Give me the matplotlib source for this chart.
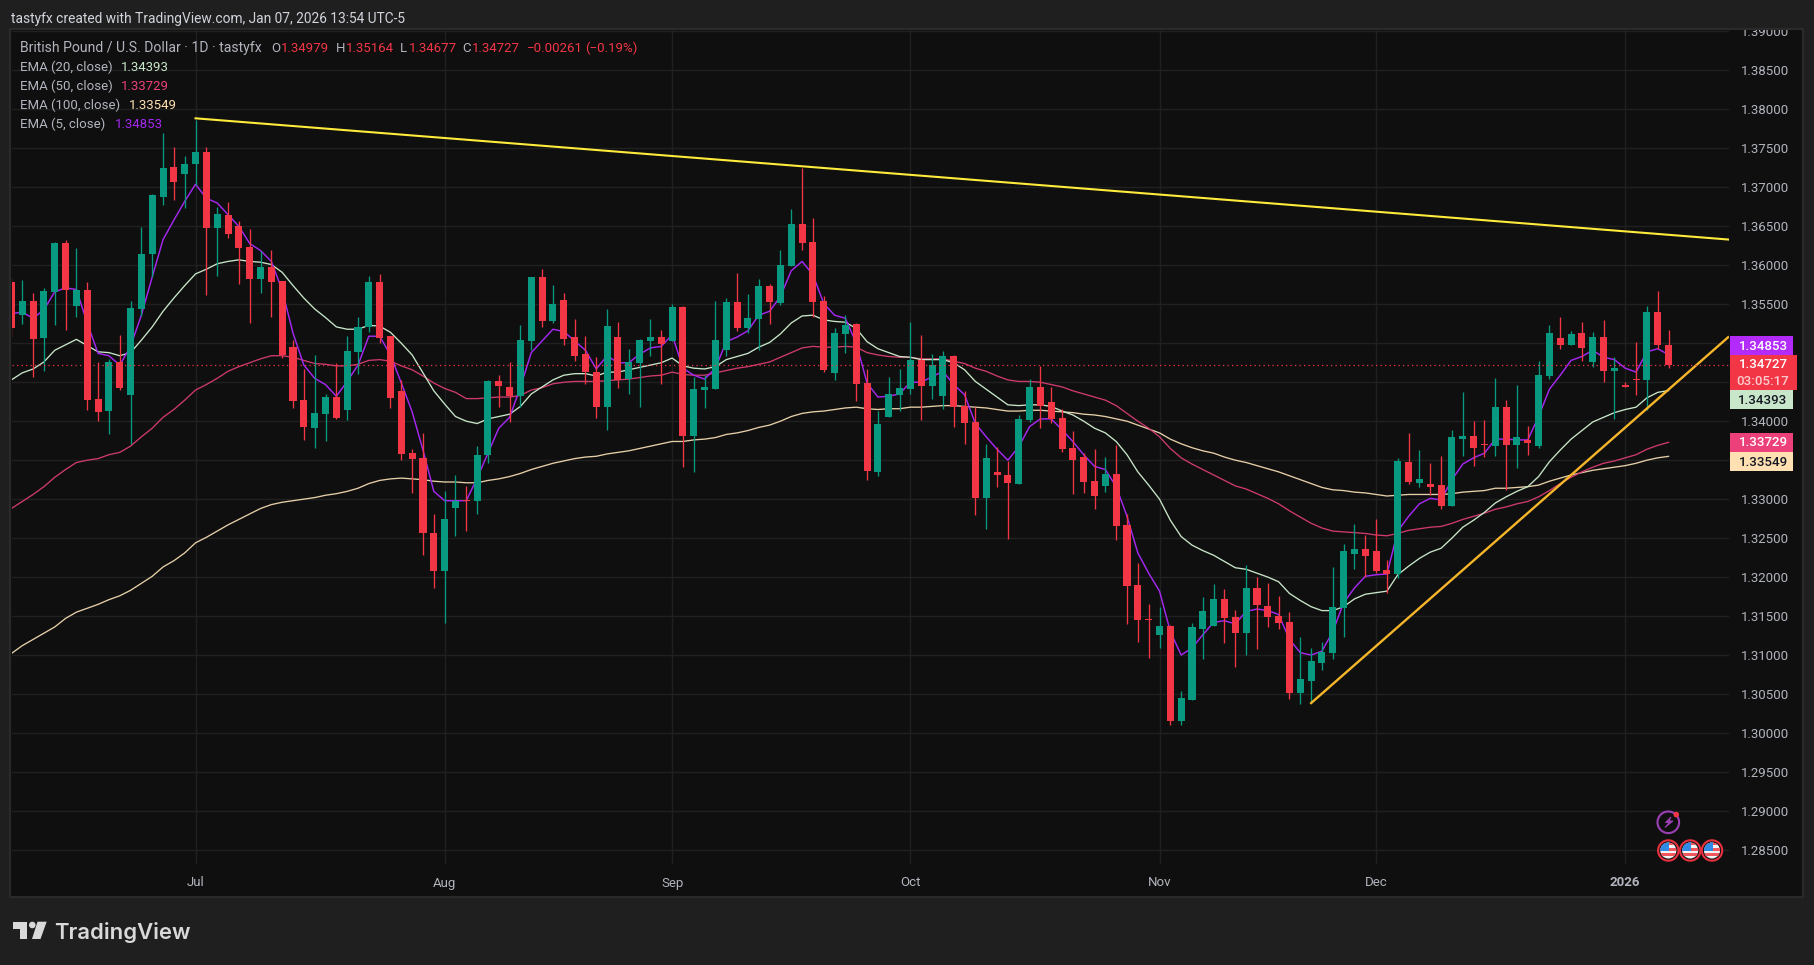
import matplotlib

matplotlib.use("Agg")
import matplotlib.pyplot as plt
from matplotlib.patches import Circle, Polygon, Rectangle
from matplotlib.transforms import Bbox

plt.rcParams["font.family"] = ["Roboto", "DejaVu Sans"]

W, H = 1814, 965

OPENS = [
    1.35786, 1.35367, 1.35538, 1.35072, 1.35662, 1.36282, 1.35483, 1.35679, 1.34282, 1.34136,
    1.34756, 1.34342, 1.35444, 1.36149, 1.36880, 1.37256, 1.37175, 1.37303, 1.37448, 1.36483,
    1.36641, 1.36500, 1.36231, 1.35829, 1.35974, 1.35795, 1.34948, 1.34269, 1.33919, 1.34098,
    1.34307, 1.34149, 1.34893, 1.35205, 1.35782, 1.35094, 1.34384, 1.33594, 1.33525, 1.32564,
    1.32072, 1.32889, 1.32987, 1.32970, 1.33560, 1.34513, 1.34436, 1.34329, 1.35035, 1.35847,
    1.35291, 1.35552, 1.35077, 1.34859, 1.34629, 1.34176, 1.35077, 1.34539, 1.34753, 1.35030,
    1.35077, 1.35035, 1.35462, 1.33804, 1.34406, 1.34419, 1.34919, 1.35526, 1.35201, 1.35317,
    1.35731, 1.35522, 1.35996, 1.36530, 1.36295, 1.35539, 1.34624, 1.35124, 1.35244, 1.34492,
    1.33342, 1.34060, 1.34342, 1.34414, 1.34786, 1.34457, 1.34325, 1.34837, 1.34201, 1.33991,
    1.33021, 1.33346, 1.33312, 1.33196, 1.34017, 1.34440, 1.34248, 1.34043, 1.33654, 1.33543,
    1.33231, 1.33171, 1.33325, 1.32671, 1.31897, 1.31466, 1.31261, 1.31376, 1.30158, 1.30427,
    1.31337, 1.31376, 1.31722, 1.31491, 1.31286, 1.31863, 1.31632, 1.31504, 1.31427, 1.30517,
    1.30671, 1.30901, 1.31030, 1.31607, 1.32299, 1.32363, 1.32337, 1.32094, 1.32042, 1.33478,
    1.33209, 1.33196, 1.33183, 1.32914, 1.33773, 1.33812, 1.33709, 1.33683, 1.34183, 1.33696,
    1.33760, 1.33683, 1.34581, 1.35068, 1.34978, 1.35132, 1.34760, 1.35081, 1.34645, 1.34465,
    1.34542, 1.34530, 1.35401, 1.34979,
]
HIGHS = [
    1.35833, 1.35812, 1.35641, 1.35713, 1.36299, 1.36325, 1.36218, 1.35782, 1.34756, 1.34795,
    1.35102, 1.35538, 1.36487, 1.36914, 1.37692, 1.37513, 1.37401, 1.37870, 1.37513, 1.36743,
    1.36807, 1.36564, 1.36461, 1.36188, 1.36196, 1.35803, 1.35042, 1.34666, 1.34846, 1.34346,
    1.34743, 1.35090, 1.35333, 1.35863, 1.35884, 1.35098, 1.34525, 1.33641, 1.33846, 1.32807,
    1.33107, 1.33312, 1.33163, 1.33684, 1.34530, 1.34594, 1.34757, 1.35231, 1.35850, 1.35949,
    1.35744, 1.35641, 1.35308, 1.35090, 1.34821, 1.35436, 1.35270, 1.34923, 1.35052, 1.35308,
    1.35167, 1.35500, 1.35475, 1.34573, 1.34590, 1.35539, 1.35577, 1.35898, 1.35629, 1.35821,
    1.35757, 1.36193, 1.36718, 1.37253, 1.36603, 1.35603, 1.35193, 1.35359, 1.35257, 1.34667,
    1.34129, 1.34564, 1.34667, 1.35273, 1.35107, 1.34863, 1.34897, 1.34845, 1.34389, 1.34188,
    1.33705, 1.33671, 1.33483, 1.34077, 1.34538, 1.34709, 1.34436, 1.34154, 1.33872, 1.33590,
    1.33641, 1.33538, 1.33692, 1.32808, 1.32179, 1.31654, 1.31615, 1.31389, 1.30543, 1.31410,
    1.31743, 1.31910, 1.31846, 1.31581, 1.32154, 1.32004, 1.31923, 1.31761, 1.31551, 1.31235,
    1.31094, 1.31166, 1.32132, 1.32423, 1.32679, 1.32542, 1.32743, 1.32222, 1.33530, 1.33850,
    1.33632, 1.33465, 1.33555, 1.33889, 1.34376, 1.34004, 1.34017, 1.34555, 1.34273, 1.34465,
    1.33940, 1.34773, 1.35235, 1.35337, 1.35158, 1.35273, 1.35145, 1.35299, 1.34824, 1.34504,
    1.35017, 1.35478, 1.35671, 1.35164,
]
LOWS = [
    1.35085, 1.35248, 1.34572, 1.34649, 1.35235, 1.35171, 1.35342, 1.34145, 1.34004, 1.33842,
    1.34401, 1.33713, 1.35350, 1.35854, 1.36778, 1.36837, 1.36735, 1.37030, 1.35624, 1.35867,
    1.36354, 1.35765, 1.35265, 1.35649, 1.35342, 1.34812, 1.34175, 1.33760, 1.33662, 1.33752,
    1.34034, 1.34021, 1.34611, 1.35149, 1.35000, 1.34175, 1.33496, 1.33085, 1.32286, 1.31863,
    1.31406, 1.32530, 1.32595, 1.32812, 1.33462, 1.34176, 1.33996, 1.34188, 1.34915, 1.35214,
    1.35265, 1.34979, 1.34778, 1.34471, 1.34047, 1.33881, 1.34432, 1.34355, 1.34176, 1.34842,
    1.34471, 1.35035, 1.33406, 1.33342, 1.34163, 1.34419, 1.34842, 1.35163, 1.35129, 1.34919,
    1.35248, 1.35496, 1.35992, 1.36197, 1.35342, 1.34637, 1.34530, 1.34881, 1.34265, 1.33240,
    1.33300, 1.34060, 1.34137, 1.34350, 1.34017, 1.34286, 1.34158, 1.33931, 1.33709, 1.32799,
    1.32620, 1.33158, 1.32491, 1.33196, 1.33996, 1.33919, 1.33978, 1.33607, 1.33060, 1.33081,
    1.32876, 1.33094, 1.32478, 1.31402, 1.31171, 1.30966, 1.31094, 1.30107, 1.30107, 1.30427,
    1.30953, 1.31376, 1.31154, 1.30850, 1.31004, 1.31081, 1.31363, 1.31337, 1.30440, 1.30376,
    1.30384, 1.30812, 1.30953, 1.31235, 1.32106, 1.32004, 1.32055, 1.31799, 1.31991, 1.33196,
    1.33158, 1.33055, 1.32876, 1.32914, 1.33555, 1.33427, 1.33542, 1.33555, 1.33119, 1.33401,
    1.33568, 1.33658, 1.34542, 1.34927, 1.34978, 1.34773, 1.34696, 1.34504, 1.34030, 1.34440,
    1.34337, 1.34145, 1.34927, 1.34677,
]
CLOSES = [
    1.35201, 1.35538, 1.35060, 1.35666, 1.36282, 1.35688, 1.35684, 1.34278, 1.34124, 1.34756,
    1.34431, 1.35448, 1.36141, 1.36897, 1.37243, 1.37072, 1.37295, 1.37448, 1.36483, 1.36654,
    1.36406, 1.36226, 1.35829, 1.35974, 1.35790, 1.34854, 1.34265, 1.33931, 1.34102, 1.34307,
    1.34047, 1.34897, 1.35205, 1.35782, 1.35072, 1.34303, 1.33585, 1.33521, 1.32560, 1.32072,
    1.32743, 1.32974, 1.32979, 1.33564, 1.34513, 1.34458, 1.34329, 1.35039, 1.35847, 1.35291,
    1.35500, 1.35060, 1.34842, 1.34637, 1.34176, 1.35218, 1.34530, 1.34757, 1.35039, 1.35077,
    1.34996, 1.35462, 1.33804, 1.34411, 1.34436, 1.35039, 1.35526, 1.35201, 1.35321, 1.35731,
    1.35535, 1.36000, 1.36530, 1.36291, 1.35535, 1.34663, 1.35129, 1.35231, 1.34483, 1.33355,
    1.33962, 1.34350, 1.34423, 1.34786, 1.34457, 1.34718, 1.34833, 1.34184, 1.33978, 1.33021,
    1.33525, 1.33312, 1.33209, 1.34025, 1.34440, 1.34196, 1.34030, 1.33645, 1.33504, 1.33222,
    1.33043, 1.33325, 1.32658, 1.31889, 1.31453, 1.31453, 1.31376, 1.30158, 1.30453, 1.31363,
    1.31568, 1.31722, 1.31478, 1.31286, 1.31863, 1.31645, 1.31491, 1.31414, 1.30517, 1.30696,
    1.30927, 1.31042, 1.31619, 1.32333, 1.32363, 1.32273, 1.32081, 1.32042, 1.33491, 1.33222,
    1.33260, 1.33158, 1.32914, 1.33799, 1.33812, 1.33658, 1.33696, 1.34183, 1.33696, 1.33799,
    1.33722, 1.34594, 1.35132, 1.34978, 1.35119, 1.34940, 1.35081, 1.34645, 1.34683, 1.34440,
    1.34534, 1.35401, 1.34979, 1.34727,
]

EMA5 = [
    1.3538, 1.3540, 1.3532, 1.3543, 1.3566, 1.3571, 1.3569, 1.3526, 1.3487, 1.3484,
    1.3472, 1.3496, 1.3536, 1.3585, 1.3633, 1.3658, 1.3682, 1.3704, 1.3686, 1.3680,
    1.3665, 1.3650, 1.3628, 1.3619, 1.3605, 1.3568, 1.3513, 1.3472, 1.3455, 1.3447,
    1.3432, 1.3451, 1.3472, 1.3509, 1.3509, 1.3485, 1.3449, 1.3412, 1.3363, 1.3310,
    1.3298, 1.3298, 1.3298, 1.3327, 1.3359, 1.3391, 1.3405, 1.3444, 1.3488, 1.3503,
    1.3518, 1.3515, 1.3503, 1.3491, 1.3467, 1.3484, 1.3475, 1.3475, 1.3486, 1.3494,
    1.3496, 1.3511, 1.3468, 1.3459, 1.3454, 1.3468, 1.3502, 1.3508, 1.3516, 1.3536,
    1.3541, 1.3560, 1.3593, 1.3605, 1.3588, 1.3551, 1.3536, 1.3532, 1.3500, 1.3449,
    1.3431, 1.3432, 1.3435, 1.3450, 1.3450, 1.3457, 1.3464, 1.3447, 1.3434, 1.3397,
    1.3380, 1.3364, 1.3350, 1.3367, 1.3393, 1.3403, 1.3403, 1.3389, 1.3374, 1.3357,
    1.3342, 1.3338, 1.3316, 1.3278, 1.3231, 1.3205, 1.3182, 1.3130, 1.3100, 1.3109,
    1.3126, 1.3142, 1.3144, 1.3140, 1.3156, 1.3159, 1.3157, 1.3152, 1.3120, 1.3103,
    1.3100, 1.3105, 1.3130, 1.3167, 1.3186, 1.3201, 1.3203, 1.3204, 1.3259, 1.3278,
    1.3294, 1.3301, 1.3299, 1.3325, 1.3345, 1.3353, 1.3359, 1.3377, 1.3377, 1.3376,
    1.3376, 1.3406, 1.3441, 1.3459, 1.3478, 1.3483, 1.3491, 1.3482, 1.3479, 1.3468,
    1.3463, 1.3489, 1.3493, 1.34853,
]
EMA20 = [
    1.3453, 1.3462, 1.3467, 1.3476, 1.3491, 1.3498, 1.3505, 1.3497, 1.3489, 1.3488,
    1.3484, 1.3488, 1.3504, 1.3521, 1.3541, 1.3558, 1.3574, 1.3589, 1.3595, 1.3602,
    1.3605, 1.3607, 1.3605, 1.3604, 1.3601, 1.3591, 1.3574, 1.3558, 1.3544, 1.3533,
    1.3521, 1.3518, 1.3518, 1.3523, 1.3522, 1.3514, 1.3500, 1.3485, 1.3462, 1.3439,
    1.3422, 1.3406, 1.3400, 1.3397, 1.3403, 1.3406, 1.3409, 1.3419, 1.3435, 1.3444,
    1.3453, 1.3459, 1.3461, 1.3461, 1.3458, 1.3463, 1.3463, 1.3466, 1.3469, 1.3472,
    1.3475, 1.3481, 1.3471, 1.3468, 1.3467, 1.3470, 1.3479, 1.3483, 1.3487, 1.3495,
    1.3501, 1.3512, 1.3526, 1.3535, 1.3536, 1.3530, 1.3528, 1.3527, 1.3519, 1.3502,
    1.3493, 1.3488, 1.3483, 1.3482, 1.3479, 1.3479, 1.3479, 1.3475, 1.3466, 1.3451,
    1.3441, 1.3431, 1.3421, 1.3420, 1.3421, 1.3421, 1.3419, 1.3413, 1.3408, 1.3400,
    1.3391, 1.3385, 1.3374, 1.3357, 1.3335, 1.3318, 1.3300, 1.3273, 1.3252, 1.3241,
    1.3234, 1.3228, 1.3220, 1.3212, 1.3210, 1.3205, 1.3200, 1.3194, 1.3179, 1.3170,
    1.3162, 1.3157, 1.3157, 1.3162, 1.3172, 1.3178, 1.3180, 1.3182, 1.3203, 1.3214,
    1.3224, 1.3232, 1.3237, 1.3250, 1.3264, 1.3273, 1.3283, 1.3295, 1.3303, 1.3310,
    1.3316, 1.3329, 1.3348, 1.3363, 1.3377, 1.3388, 1.3399, 1.3405, 1.3411, 1.3415,
    1.3418, 1.3430, 1.3437, 1.34393,
]
EMA50 = [
    1.3288, 1.3297, 1.3306, 1.3316, 1.3328, 1.3338, 1.3347, 1.3350, 1.3352, 1.3357,
    1.3360, 1.3368, 1.3380, 1.3391, 1.3405, 1.3415, 1.3427, 1.3440, 1.3447, 1.3455,
    1.3464, 1.3470, 1.3475, 1.3480, 1.3484, 1.3484, 1.3482, 1.3478, 1.3474, 1.3473,
    1.3471, 1.3471, 1.3473, 1.3478, 1.3479, 1.3477, 1.3471, 1.3466, 1.3458, 1.3449,
    1.3442, 1.3437, 1.3429, 1.3429, 1.3430, 1.3431, 1.3431, 1.3433, 1.3440, 1.3443,
    1.3448, 1.3450, 1.3451, 1.3451, 1.3451, 1.3452, 1.3453, 1.3454, 1.3456, 1.3458,
    1.3459, 1.3463, 1.3460, 1.3459, 1.3459, 1.3462, 1.3465, 1.3468, 1.3470, 1.3473,
    1.3476, 1.3482, 1.3488, 1.3494, 1.3496, 1.3495, 1.3495, 1.3496, 1.3495, 1.3488,
    1.3485, 1.3483, 1.3482, 1.3482, 1.3480, 1.3480, 1.3480, 1.3477, 1.3474, 1.3468,
    1.3464, 1.3458, 1.3453, 1.3451, 1.3451, 1.3450, 1.3447, 1.3444, 1.3439, 1.3435,
    1.3431, 1.3427, 1.3420, 1.3410, 1.3400, 1.3391, 1.3380, 1.3365, 1.3353, 1.3345,
    1.3338, 1.3331, 1.3324, 1.3317, 1.3313, 1.3307, 1.3301, 1.3294, 1.3285, 1.3277,
    1.3269, 1.3263, 1.3259, 1.3258, 1.3257, 1.3256, 1.3254, 1.3253, 1.3256, 1.3260,
    1.3262, 1.3264, 1.3265, 1.3269, 1.3274, 1.3278, 1.3282, 1.3287, 1.3290, 1.3294,
    1.3297, 1.3303, 1.3311, 1.3320, 1.3328, 1.3335, 1.3341, 1.3346, 1.3349, 1.3353,
    1.3357, 1.3364, 1.3369, 1.33729,
]
EMA100 = [
    1.3102, 1.3112, 1.3120, 1.3128, 1.3136, 1.3147, 1.3155, 1.3160, 1.3165, 1.3171,
    1.3176, 1.3183, 1.3192, 1.3201, 1.3213, 1.3221, 1.3231, 1.3244, 1.3251, 1.3259,
    1.3267, 1.3274, 1.3281, 1.3288, 1.3293, 1.3296, 1.3298, 1.3300, 1.3302, 1.3305,
    1.3307, 1.3310, 1.3314, 1.3320, 1.3324, 1.3326, 1.3327, 1.3326, 1.3325, 1.3323,
    1.3322, 1.3322, 1.3321, 1.3321, 1.3324, 1.3326, 1.3329, 1.3333, 1.3338, 1.3342,
    1.3346, 1.3349, 1.3352, 1.3354, 1.3355, 1.3358, 1.3360, 1.3362, 1.3365, 1.3368,
    1.3371, 1.3374, 1.3374, 1.3376, 1.3377, 1.3379, 1.3383, 1.3385, 1.3388, 1.3392,
    1.3395, 1.3400, 1.3406, 1.3410, 1.3412, 1.3413, 1.3415, 1.3417, 1.3418, 1.3416,
    1.3415, 1.3416, 1.3416, 1.3418, 1.3418, 1.3419, 1.3420, 1.3420, 1.3419, 1.3418,
    1.3417, 1.3415, 1.3413, 1.3413, 1.3414, 1.3414, 1.3413, 1.3412, 1.3411, 1.3409,
    1.3408, 1.3406, 1.3403, 1.3400, 1.3395, 1.3390, 1.3385, 1.3377, 1.3371, 1.3366,
    1.3362, 1.3359, 1.3354, 1.3350, 1.3347, 1.3343, 1.3339, 1.3335, 1.3330, 1.3325,
    1.3320, 1.3315, 1.3312, 1.3311, 1.3309, 1.3308, 1.3306, 1.3304, 1.3305, 1.3306,
    1.3306, 1.3306, 1.3306, 1.3307, 1.3309, 1.3310, 1.3311, 1.3314, 1.3314, 1.3315,
    1.3316, 1.3318, 1.3323, 1.3327, 1.3331, 1.3334, 1.3337, 1.3339, 1.3341, 1.3343,
    1.3346, 1.3350, 1.3353, 1.33549,
]

MONTH_BARS = [17, 40, 61, 83, 106, 126, 149]
MONTH_LABELS = ["Jul", "Aug", "Sep", "Oct", "Nov", "Dec", "2026"]

GRID_PRICES = [1.285 + 0.005 * i for i in range(22)]
HIDDEN_PRICE_LABELS = ["1.35000", "1.34500", "1.33500"]

LAST_PRICE = 1.34727
RESISTANCE_BARS = [17, 158.5]
RESISTANCE_PRICES = [1.37886, 1.36331]
SUPPORT_BARS = [120, 158.5]
SUPPORT_PRICES = [1.30384, 1.35077]

LEGEND_ROWS = [
    ("EMA (20, close)", "1.34393", "#c8e6c9", 121.4),
    ("EMA (50, close)", "1.33729", "#ec407a", 121.4),
    ("EMA (100, close)", "1.33549", "#ffe0b2", 129),
    ("EMA (5, close)", "1.34853", "#a428f0", 114.7),
]
OHLC_PARTS = [
    ("British Pound / U.S. Dollar · 1D · tastyfx", 20, "#b2b5be", 14.0),
    ("O", 271, "#b2b5be", 13.2), ("1.34979", 281, "#f23645", 13.2),
    ("H", 336, "#b2b5be", 13.2), ("1.35164", 346, "#f23645", 13.2),
    ("L", 400, "#b2b5be", 13.2), ("1.34677", 408.5, "#f23645", 13.2),
    ("C", 462.5, "#b2b5be", 13.2), ("1.34727", 472, "#f23645", 13.2),
    ("−0.00261", 527, "#f23645", 13.2), ("(−0.19%)", 585, "#f23645", 13.2),
]

# fill, text colour, y top, y bottom, right edge, label lines
BADGES = [
    ("#b22bfb", "#ffffff", 336, 355, 1793, ["1.34853"]),
    ("#f23645", "#ffffff", 355, 390, 1797, ["1.34727", "03:05:17"]),
    ("#c8e6c9", "#131722", 390, 409, 1793, ["1.34393"]),
    ("#ec407a", "#ffffff", 433, 452, 1793, ["1.33729"]),
    ("#ffe0b2", "#131722", 452, 471, 1793, ["1.33549"]),
]

UP_COLOR = "#089981"
DOWN_COLOR = "#f23645"
BG_OUTER = "#1f1f1f"
BG_CHART = "#0f0f0f"
GRID_COLOR = "#202020"
AXIS_TEXT = "#b2b5be"
FONT_PT = 13.2 * 0.72

fig = plt.figure(figsize=(W / 100, H / 100), dpi=100, facecolor=BG_OUTER)
fig.add_artist(Rectangle((9.5 / W, 1 - 896.5 / H), 1793 / W, 867.5 / H, transform=fig.transFigure,
                         facecolor=BG_CHART, edgecolor="#2a2a2a", linewidth=1.6, zorder=-1))

# plot area: pixel 12..1729 across, 30..864 down
ax = fig.add_axes([12 / W, 1 - 864 / H, 1717 / W, 834 / H], facecolor=BG_CHART)
ax.set_xlim(0.055, 158.58)
ax.set_ylim(1.28319, 1.39019)
for side in ax.spines.values():
    side.set_visible(False)

bars = range(len(CLOSES))
colors = [UP_COLOR if c >= o else DOWN_COLOR for o, c in zip(OPENS, CLOSES)]

ax.set_axisbelow(True)
ax.grid(True, color=GRID_COLOR, linewidth=1.0)
ax.yaxis.tick_right()
labels = [f"{p:.5f}" for p in GRID_PRICES]
labels = ["" if t in HIDDEN_PRICE_LABELS else t for t in labels]
ax.set_yticks(GRID_PRICES, labels=labels)
ax.set_xticks(MONTH_BARS, labels=MONTH_LABELS)
ax.tick_params(axis="y", length=0, pad=8.4, labelcolor=AXIS_TEXT, labelsize=FONT_PT)
ax.tick_params(axis="x", length=0, pad=9, labelcolor=AXIS_TEXT, labelsize=FONT_PT)
ax.get_xticklabels()[-1].set_fontweight("bold")
top_clip = Bbox.from_extents(0, 0, W, H - 30)
for label in ax.get_yticklabels():
    label.set_clip_box(top_clip)
    label.set_clip_on(True)

ax.plot(bars, EMA100, color="#e6cfa8", linewidth=0.95, zorder=2)
ax.plot(bars, EMA50, color="#cf3a6e", linewidth=0.95, zorder=2.1)
ax.plot(bars, EMA20, color="#c8e6c9", linewidth=0.95, zorder=2.2)
ax.plot(bars, EMA5, color="#a428f0", linewidth=1.05, zorder=2.3)

ax.vlines(bars, LOWS, HIGHS, colors=colors, linewidth=0.95, zorder=3)
bottoms = [min(o, c) for o, c in zip(OPENS, CLOSES)]
heights = [abs(c - o) for o, c in zip(OPENS, CLOSES)]
ax.bar(bars, heights, bottom=bottoms, width=0.65, color=colors, linewidth=0, zorder=4)

ax.plot(RESISTANCE_BARS, RESISTANCE_PRICES, color="#ffeb3b", linewidth=1.5, zorder=5)
ax.plot(SUPPORT_BARS, SUPPORT_PRICES, color="#f7b62a", linewidth=1.7, zorder=5)
ax.axhline(LAST_PRICE, color=DOWN_COLOR, linewidth=0.9, linestyle=(0, (1, 2.6)), zorder=6)

# overlay in image pixels for the header, legend, badges and icons
pix = fig.add_axes([0, 0, 1, 1], facecolor="none", zorder=5)
pix.set_xlim(0, W)
pix.set_ylim(H, 0)
pix.axis("off")

pix.text(11, 18.5, "tastyfx created with TradingView.com, Jan 07, 2026 13:54 UTC-5",
         color="#d1d4dc", fontsize=13.7 * 0.72, va="center")

for text, x, color, px in OHLC_PARTS:
    pix.text(x, 48, text, color=color, fontsize=px * 0.72, va="center")
for row, (name, value, color, value_x) in enumerate(LEGEND_ROWS):
    y = 67.3 + 19 * row
    pix.text(20, y, name, color=AXIS_TEXT, fontsize=FONT_PT, va="center")
    pix.text(value_x, y, value, color=color, fontsize=FONT_PT, va="center")

for fill, text_color, top, bottom, right, lines in BADGES:
    pix.add_patch(Rectangle((1730, top), right - 1730, bottom - top, facecolor=fill, linewidth=0))
    step = (bottom - top) / len(lines)
    for i, line in enumerate(lines):
        alpha = 0.75 if i else 1.0
        pix.text(1763, top + step * (i + 0.5) + 0.5, line, color=text_color, alpha=alpha,
                 fontsize=FONT_PT, va="center", ha="center", fontweight="medium")


def draw_flag(cx, cy):
    pix.add_patch(Circle((cx, cy), 10.2, facecolor="#151515", edgecolor="#e8303f", linewidth=1.5))
    disc = Circle((cx, cy), 8, transform=pix.transData)
    parts = [Rectangle((cx - 9, cy - 9), 18, 18, facecolor="#f4f4f4", linewidth=0)]
    for offset in (-8, -2.7, 2.6):
        parts.append(Rectangle((cx - 9, cy + offset), 18, 2.8, facecolor="#f2565f", linewidth=0))
    parts.append(Rectangle((cx - 9, cy - 9), 9.5, 9.5, facecolor="#2f8be6", linewidth=0))
    for part in parts:
        pix.add_patch(part)
        part.set_clip_path(disc)


pix.add_patch(Circle((1668.3, 822.3), 10.8, facecolor="none", edgecolor="#9c3fb5", linewidth=1.5))
bolt = [(1671, 817), (1665.5, 822.5), (1669.3, 822.5), (1665, 827.5), (1673, 821), (1669, 821)]
pix.add_patch(Polygon(bolt, closed=True, facecolor="#9c3fb5", edgecolor="#9c3fb5", linewidth=0.7))
pix.add_patch(Circle((1676.3, 814.6), 2.8, facecolor="#f23645", linewidth=0))
for cx in (1668.3, 1690.2, 1712):
    draw_flag(cx, 850.5)

# TradingView logo
logo = "#d9d9d9"
pix.add_patch(Polygon([(13, 921.7), (26.7, 921.7), (26.7, 939), (19.5, 939), (19.5, 928.5), (13, 928.5)],
                      closed=True, facecolor=logo, linewidth=0))
pix.add_patch(Circle((32.3, 925), 3.3, facecolor=logo, linewidth=0))
pix.add_patch(Polygon([(37.5, 921.7), (46.7, 921.7), (40.5, 939), (32, 939)],
                      closed=True, facecolor=logo, linewidth=0))
pix.text(54.5, 939.3, "TradingView", color=logo, fontsize=15.9, va="baseline",
         family=["Inter", "DejaVu Sans"], fontweight="semibold")

fig.savefig("out.png", dpi=100, facecolor=BG_OUTER)
